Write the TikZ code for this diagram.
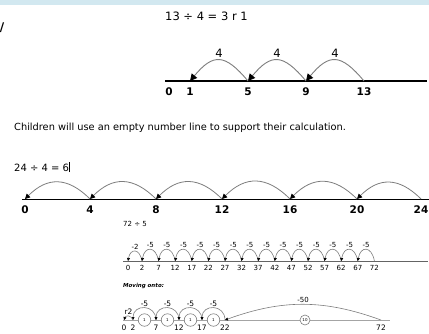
\documentclass[tikz,border=0pt]{standalone}
\usepackage{fontspec}
\setmainfont{DejaVu Sans}
\usetikzlibrary{arrows.meta,positioning,calc}
\definecolor{bandblue}{RGB}{210,232,240}
\definecolor{arcgray}{RGB}{125,125,125}

\begin{document}
\begin{tikzpicture}[x=1pt, y=1pt,
    numline/.style={draw=black, line width=1.2pt},
    softline/.style={draw=arcgray!80!black, line width=1pt},
    bigjump/.style={draw=arcgray, line width=0.9pt, -{Triangle[color=black, length=7pt, width=7pt]}},
    midjump/.style={draw=arcgray, line width=0.8pt, -{Triangle[color=black, length=5pt, width=5pt]}},
    tinyjump/.style={draw=arcgray, line width=0.6pt, -{Triangle[color=black, length=3pt, width=3pt]}},
    toplbl/.style={font=\fontsize{10.5}{11}\selectfont\bfseries, inner sep=0pt},
    midlbl/.style={font=\fontsize{10.5}{11}\selectfont\bfseries, inner sep=0pt},
    smalllbl/.style={font=\fontsize{7}{7}\selectfont, inner sep=0pt},
    lowlbl/.style={font=\fontsize{7.5}{8}\selectfont, inner sep=0pt},
    group/.style={circle, draw=arcgray, fill=white, line width=0.6pt, minimum size=12.5pt, inner sep=0pt, font=\fontsize{4}{4}\selectfont}
]
\useasboundingbox (0,0) rectangle (429,-333);

% Top band and cut-off text
\fill[bandblue] (0,0) rectangle (429,-4.5);
\node[font=\fontsize{12}{12}\selectfont\bfseries, inner sep=0pt] (cut) at (2,-28) {/};

% 13 / 4 with remainder
\node[anchor=west, font=\fontsize{11.5}{12}\selectfont, inner sep=0pt] (eqa) at (165,-16) {13 ÷ 4 = 3 r 1};
\coordinate (ta) at (165,-81);
\coordinate (tb) at (427,-81);
\draw[numline] (ta) -- (tb);
\foreach \v/\x in {1/190,5/248,9/306,13/364}
    \coordinate (t\v) at (\x,-81);
\node[toplbl] (tl0) at (169,-92) {0};
\foreach \v in {1,5,9,13}
    \node[toplbl] (tl\v) at ($(t\v)+(0,-11)$) {\v};
\foreach \a/\b in {13/9,9/5,5/1}
    \draw[bigjump] (t\a) to[out=130, in=50, looseness=1.6] node[above=2pt, toplbl, font=\fontsize{11.5}{12}\selectfont] (j\a) {4} (t\b);

% Empty number line
\node[anchor=west, font=\fontsize{9.8}{11}\selectfont, inner sep=0pt] (note) at (14,-128) {Children will use an empty number line to support their calculation.};
\node[anchor=west, font=\fontsize{10}{12}\selectfont, inner sep=0pt] (eqb) at (14,-167) {24 ÷ 4 = 6\rule[-1pt]{0.6pt}{10pt}};
\coordinate (ma) at (22,-199);
\coordinate (mb) at (429,-199);
\draw[numline, line width=1pt] (ma) -- (mb);
\foreach \v/\x in {0/25,4/90,8/156,12/222,16/290,20/357,24/421} {
    \coordinate (m\v) at (\x,-199);
    \node[midlbl] (ml\v) at ($(m\v)+(0,-11)$) {\v};
}
\foreach \a/\b in {24/20,20/16,16/12,12/8,8/4,4/0}
    \draw[midjump] (m\a) to[out=135, in=45, looseness=1.25] (m\b);

% 72 / 5
\node[anchor=west, smalllbl] (eqc) at (123,-224) {72 ÷ 5};
\coordinate (sa) at (123,-261);
\coordinate (sb) at (428,-261);
\draw[softline] (sa) -- (sb);
\coordinate (szero) at (128,-261);
\node[smalllbl] (slzero) at (128,-268) {0};
\foreach \k [evaluate=\k as \x using 142+16.6*\k, evaluate=\k as \v using int(2+5*\k)] in {0,...,14} {
    \coordinate (s\k) at (\x,-261);
    \node[smalllbl] (sl\k) at (\x,-268) {\v};
}
\draw[tinyjump] (s0) to[out=100, in=80, looseness=2.4] node[above=2pt, smalllbl] (sj0) {-2} (szero);
\foreach \k [evaluate=\k as \j using int(\k-1)] in {1,...,14}
    \draw[tinyjump] (s\k) to[out=100, in=80, looseness=2.4] node[above=2pt, smalllbl] (sj\k) {-5} (s\j);

% Moving onto chunking
\node[anchor=west, font=\fontsize{5.5}{6}\selectfont\bfseries\itshape, inner sep=0pt] (move) at (123,-286) {Moving onto:};
\coordinate (fa) at (123,-320);
\coordinate (fb) at (390,-320);
\draw[softline, draw=arcgray!70] (fa) -- (fb);
\foreach \v/\x in {0/124,2/133,7/156,12/179,17/202,22/225,72/381} {
    \coordinate (f\v) at (\x,-320);
    \node[lowlbl] (fl\v) at ($(f\v)+(0,-8)$) {\v};
}
\foreach \a/\b in {7/2,12/7,17/12,22/17} {
    \node[group] (g\a) at ($(f\a)!0.5!(f\b)$) {1};
    \draw[tinyjump] (f\a) to[out=90, in=90, looseness=1.8] node[above=1pt, lowlbl] (fj\a) {-5} (f\b);
}
\draw[tinyjump] (f2) to[out=110, in=70, looseness=1.5] node[above=1pt, lowlbl] (fr) {r2} (f0);
\node[group, minimum size=10pt] (g72) at (305,-320) {10};
\draw[tinyjump] (f72) to[out=160, in=20, looseness=1] node[above=2pt, smalllbl] (fj72) {-50} (f22);

\end{tikzpicture}
\end{document}
